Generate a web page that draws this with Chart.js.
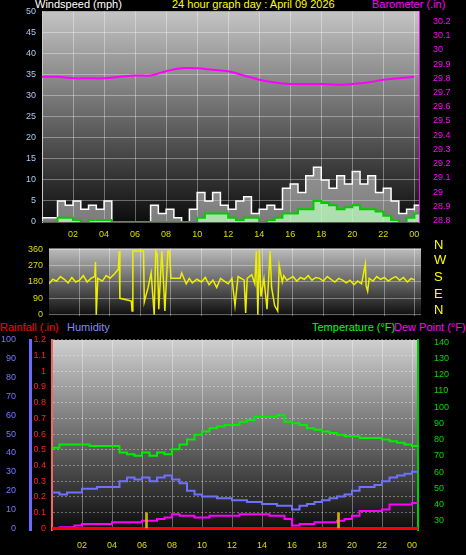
<!DOCTYPE html>
<html>
<head>
<meta charset="utf-8">
<script src="https://cdn.jsdelivr.net/npm/chart.js@4.4.1/dist/chart.umd.min.js"></script>
<style>
  body { margin: 0; background: #000; width: 466px; height: 555px; overflow: hidden; position: relative; font-family: "Liberation Sans", Arial, sans-serif; }
  canvas { position: absolute; left: 0; }
  .t { position: absolute; font-size: 11px; white-space: nowrap; line-height: 12px; }
  .c { position: absolute; left: 434px; font-size: 13px; line-height: 14px; color: #ff0; }
</style>
</head>
<body>
<div class="t" style="left:35px;top:-2px;color:#fff">Windspeed (mph)</div>
<div class="t" style="left:172px;top:-2px;color:#ff0">24 hour graph day : April 09 2026</div>
<div class="t" style="left:372px;top:-2px;color:#f0f">Barometer (.in)</div>
<div class="t" style="left:0;top:321px;color:#f00">Rainfall (.in)</div>
<div class="t" style="left:67px;top:321px;color:#88f">Humidity</div>
<div class="t" style="left:312px;top:321px;color:#0f0">Temperature (°F)</div>
<div class="t" style="left:394px;top:321px;color:#f0f">Dew Point (°F)</div>

<canvas id="top" width="466" height="242" style="top:0"></canvas>
<canvas id="mid" width="466" height="90" style="top:237px"></canvas>
<canvas id="bot" width="466" height="235" style="top:320px"></canvas>

<div class="c" style="top:238px">N</div>
<div class="c" style="top:253px">W</div>
<div class="c" style="top:270px">S</div>
<div class="c" style="top:287px">E</div>
<div class="c" style="top:303px">N</div>

<script>
// half-hourly readings, hour 0 .. 24
const windGust = [1, 1, 5, 4, 5, 3, 4, 3, 5, 0, 0, 0, 0, 0, 4, 2, 3, 1, 0, 3, 7, 5, 7, 4, 3, 5, 6, 2, 3, 4, 3, 8, 9, 7, 11, 13, 10, 8, 11, 9, 12, 9, 11, 7, 8, 5, 2, 3, 4, 9, 11, 12, 10, 6, 9];
const windAvg = [0, 0, 1, 1, 0.5, 0, 0.5, 0.5, 0.5, 0, 0, 0, 0, 0, 0, 0, 0, 0, 0, 0, 1, 2, 2, 2, 1, 0.5, 1, 1, 0, 0.5, 1, 2, 2, 3, 3, 5, 4.5, 4, 3, 3.5, 4, 3, 3, 2.5, 1.5, 0.5, 0, 1, 2, 3, 4, 4, 2, 1, 2];
const baroHours = [0, 1, 2, 3, 4, 5, 6, 7, 8, 9, 10, 11, 12, 13, 14, 15, 16, 17, 18, 19, 20, 21, 22, 23, 24];
const baro = [29.81, 29.81, 29.80, 29.80, 29.80, 29.81, 29.82, 29.82, 29.85, 29.87, 29.87, 29.86, 29.85, 29.82, 29.79, 29.77, 29.76, 29.76, 29.76, 29.755, 29.76, 29.77, 29.79, 29.80, 29.81];

const dirHours = [0, 0.25, 0.5, 0.75, 1, 1.25, 1.5, 1.75, 2, 2.25, 2.5, 2.75, 3, 3.05, 3.1, 3.2, 3.5, 3.75, 4, 4.3, 4.55, 4.6, 4.65, 5.2, 5.4, 5.45, 5.5, 6.2, 6.25, 6.5, 6.7, 6.9, 7.0, 7.1, 7.2, 7.4, 7.5, 7.6, 7.8, 7.9, 8.0, 8.6, 8.7, 9.0, 9.2, 9.4, 9.7, 10, 10.25, 10.5, 10.75, 11, 11.25, 11.5, 11.75, 12, 12.2, 12.4, 12.8, 12.9, 13, 13.3, 13.5, 13.6, 13.7, 13.8, 13.9, 14.1, 14.3, 14.5, 14.6, 14.8, 15, 15.1, 15.3, 15.4, 15.6, 15.8, 16, 16.25, 16.5, 16.75, 17, 17.25, 17.5, 17.75, 18, 18.25, 18.5, 18.75, 19, 19.25, 19.5, 19.75, 20, 20.25, 20.5, 20.75, 20.8, 20.9, 21, 21.25, 21.5, 21.75, 22, 22.25, 22.5, 22.75, 23, 23.25, 23.5, 23.75, 24];
const dirValue = [170, 195, 185, 210, 195, 175, 205, 180, 190, 215, 180, 200, 210, 290, 0, 200, 185, 215, 200, 225, 250, 350, 90, 80, 75, 20, 350, 350, 70, 150, 230, 0, 350, 330, 30, 350, 200, 20, 350, 350, 200, 200, 230, 170, 200, 175, 195, 180, 205, 165, 190, 150, 200, 185, 170, 200, 50, 210, 190, 10, 200, 220, 170, 350, 0, 360, 100, 200, 30, 350, 150, 50, 20, 270, 180, 215, 190, 200, 210, 185, 205, 195, 215, 190, 205, 200, 185, 210, 195, 180, 200, 190, 175, 190, 165, 185, 170, 280, 160, 130, 200, 185, 210, 195, 205, 185, 200, 210, 190, 205, 180, 200, 190];

const humidity = [19, 18, 19, 19, 21, 21, 22, 22, 22, 25, 27, 26, 27, 25, 27, 28, 26, 24, 20, 18, 17, 17, 16, 16, 15, 15, 14, 14, 13, 13, 12, 12, 10, 12, 13, 14, 15, 16, 17, 18, 20, 22, 22, 23, 25, 27, 28, 29, 30, 32];
const temperature = [75, 77, 77, 77, 77, 76, 76, 76, 76, 72, 71, 70, 72, 70, 72, 71, 74, 77, 80, 83, 85, 87, 88, 89, 89, 91, 92, 94, 94, 94, 95, 91, 90, 89, 87, 86, 85, 84, 83, 82, 82, 81, 81, 81, 80, 79, 78, 77, 76, 76];
const dewPoint = [25, 26, 26, 27, 28, 28, 28, 28, 29, 29, 29, 29, 30, 30, 31, 32, 34, 33, 33, 32, 32, 33, 33, 33, 33, 34, 34, 34, 34, 33, 33, 31, 27, 28, 28, 29, 29, 29, 30, 31, 33, 36, 36, 36, 37, 40, 40, 40, 41, 44];
const rainHours = [0, 24.4];
const rain = [0, 0];
const markHours = [6.3, 19.1];
const markValue = [0.1, 0.1];

const hourTicks = [2, 4, 6, 8, 10, 12, 14, 16, 18, 20, 22, 24];
const dirTicks = [0, 90, 180, 270, 360];

Chart.defaults.font.family = '"Liberation Sans", Arial, sans-serif';
Chart.defaults.font.size = 9;
Chart.defaults.animation = false;
Chart.defaults.devicePixelRatio = 1;

const bgPlugin = {
    id: 'bg',
    beforeDraw(c, args, opts) {
        const { ctx, chartArea: { left, top, right, bottom } } = c;
        const g = ctx.createLinearGradient(0, top, 0, bottom);
        g.addColorStop(0, opts.top);
        g.addColorStop(1, opts.bottom);
        ctx.fillStyle = g;
        ctx.fillRect(left, top, right - left, bottom - top);
    }
};

function pts(xs, ys) {
    return ys.map((y, i) => ({ x: xs[i], y: y }));
}
function half(ys) {
    return ys.map((y, i) => ({ x: i * 0.5, y: y }));
}
function width(w) {
    return function (s) { s.width = w; };
}
function height(h) {
    return function (s) { s.height = h; };
}
const grid = { color: 'rgba(255,255,255,0.35)', borderDash: [1, 2], drawTicks: false };
function xAxis(max, h, showTicks, pad) {
    return {
        type: 'linear', min: 0, max: max, offset: false,
        afterBuildTicks: s => { s.ticks = hourTicks.map(v => ({ value: v })); },
        afterFit: height(h),
        grid: Object.assign({ offset: false }, grid),
        border: { display: false },
        ticks: { display: showTicks, autoSkip: false, maxRotation: 0, color: '#dddd00', padding: pad, callback: v => String(v % 24).padStart(2, '0') }
    };
}
const noLegend = { legend: { display: false }, tooltip: { enabled: false } };

new Chart('top', {
    type: 'line',
    plugins: [bgPlugin],
    data: {
        datasets: [
            { data: pts(baroHours, baro), yAxisID: 'yb', borderColor: '#ff00ff', borderWidth: 2, pointRadius: 0, tension: 0.4 },
            { data: half(windAvg), borderColor: '#00cc00', borderWidth: 2, pointRadius: 0, stepped: true, fill: 'origin', backgroundColor: 'rgba(190,255,190,0.75)' },
            { data: half(windGust), borderColor: '#ffffff', borderWidth: 1.5, pointRadius: 0, stepped: true, fill: 'origin', backgroundColor: 'rgba(235,235,235,0.5)' }
        ]
    },
    options: {
        responsive: false,
        layout: { padding: { top: 10 } },
        plugins: Object.assign({ bg: { top: '#c4c4c4', bottom: '#0c0c0c' } }, noLegend),
        scales: {
            x: xAxis(24.3, 20, true, 7),
            y: {
                min: 0, max: 50, afterFit: width(42),
                grid: grid,
                border: { color: '#ccc' },
                ticks: { stepSize: 5, autoSkip: false, color: '#a8c8f0', padding: 6 }
            },
            yb: {
                position: 'right', min: 28.79, max: 30.27, afterFit: width(47),
                afterBuildTicks: s => { const t = []; for (let v = 288; v <= 302; v++) t.push({ value: v / 10 }); s.ticks = t; },
                grid: { display: false },
                border: { color: '#f0f', dash: [2, 2] },
                ticks: { autoSkip: false, color: '#ff00ff', padding: 6, callback: v => String(+v.toFixed(1)) }
            }
        }
    }
});

new Chart('mid', {
    type: 'line',
    plugins: [bgPlugin],
    data: {
        datasets: [
            { data: pts(dirHours, dirValue), borderColor: '#eeee00', borderWidth: 1.5, pointRadius: 0 }
        ]
    },
    options: {
        responsive: false,
        layout: { padding: { top: 2, right: 45 } },
        plugins: Object.assign({ bg: { top: '#bdbdbd', bottom: '#0e0e0e' } }, noLegend),
        scales: {
            x: xAxis(24.4, 7, false, 0),
            y: {
                min: -5, max: 365, afterFit: width(49),
                afterBuildTicks: s => { s.ticks = dirTicks.map(v => ({ value: v })); },
                grid: grid,
                border: { display: false },
                ticks: { autoSkip: false, color: '#dddd00', padding: 6 }
            }
        }
    }
});

new Chart('bot', {
    type: 'line',
    plugins: [bgPlugin],
    data: {
        datasets: [
            { data: pts(markHours, markValue), yAxisID: 'yr', type: 'bar', backgroundColor: '#c8b400', barThickness: 2 },
            { data: pts(rainHours, rain), yAxisID: 'yr', borderColor: '#ff0000', borderWidth: 3, pointRadius: 0 },
            { data: half(dewPoint), yAxisID: 'yt', borderColor: '#ff00ff', borderWidth: 2, pointRadius: 0, stepped: true },
            { data: half(humidity), yAxisID: 'yh', borderColor: '#7070ff', borderWidth: 2, pointRadius: 0, stepped: true },
            { data: half(temperature), yAxisID: 'yt', borderColor: '#00ee00', borderWidth: 2, pointRadius: 0, stepped: true }
        ]
    },
    options: {
        responsive: false,
        layout: { padding: { top: 20 } },
        plugins: Object.assign({ bg: { top: '#cfcfcf', bottom: '#0c0c0c' } }, noLegend),
        scales: {
            x: xAxis(24.4, 25, true, 10),
            yr: {
                position: 'left', min: -0.01, max: 1.198, afterFit: width(22),
                afterBuildTicks: s => { const t = []; for (let v = 0; v <= 12; v++) t.push({ value: v / 10 }); s.ticks = t; },
                grid: grid,
                border: { color: '#ff6060', dash: [2, 2], width: 2 },
                ticks: { autoSkip: false, color: '#ff2020', padding: 6, callback: v => String(+v.toFixed(1)) }
            },
            yh: {
                position: 'left', min: -0.8, max: 99.8, afterFit: width(30),
                afterBuildTicks: s => { const t = []; for (let v = 0; v <= 100; v += 10) t.push({ value: v }); s.ticks = t; },
                grid: { display: false },
                border: { color: '#6a6aff', width: 3 },
                ticks: { autoSkip: false, color: '#7878ff', padding: 6 }
            },
            yt: {
                position: 'right', min: 24.3, max: 141.3, afterFit: width(48),
                afterBuildTicks: s => { const t = []; for (let v = 30; v <= 140; v += 10) t.push({ value: v }); s.ticks = t; },
                grid: { display: false },
                border: { color: '#00cc00', dash: [2, 2], width: 2 },
                ticks: { autoSkip: false, color: '#00dd00', padding: 8 }
            }
        }
    }
});
</script>
</body>
</html>
